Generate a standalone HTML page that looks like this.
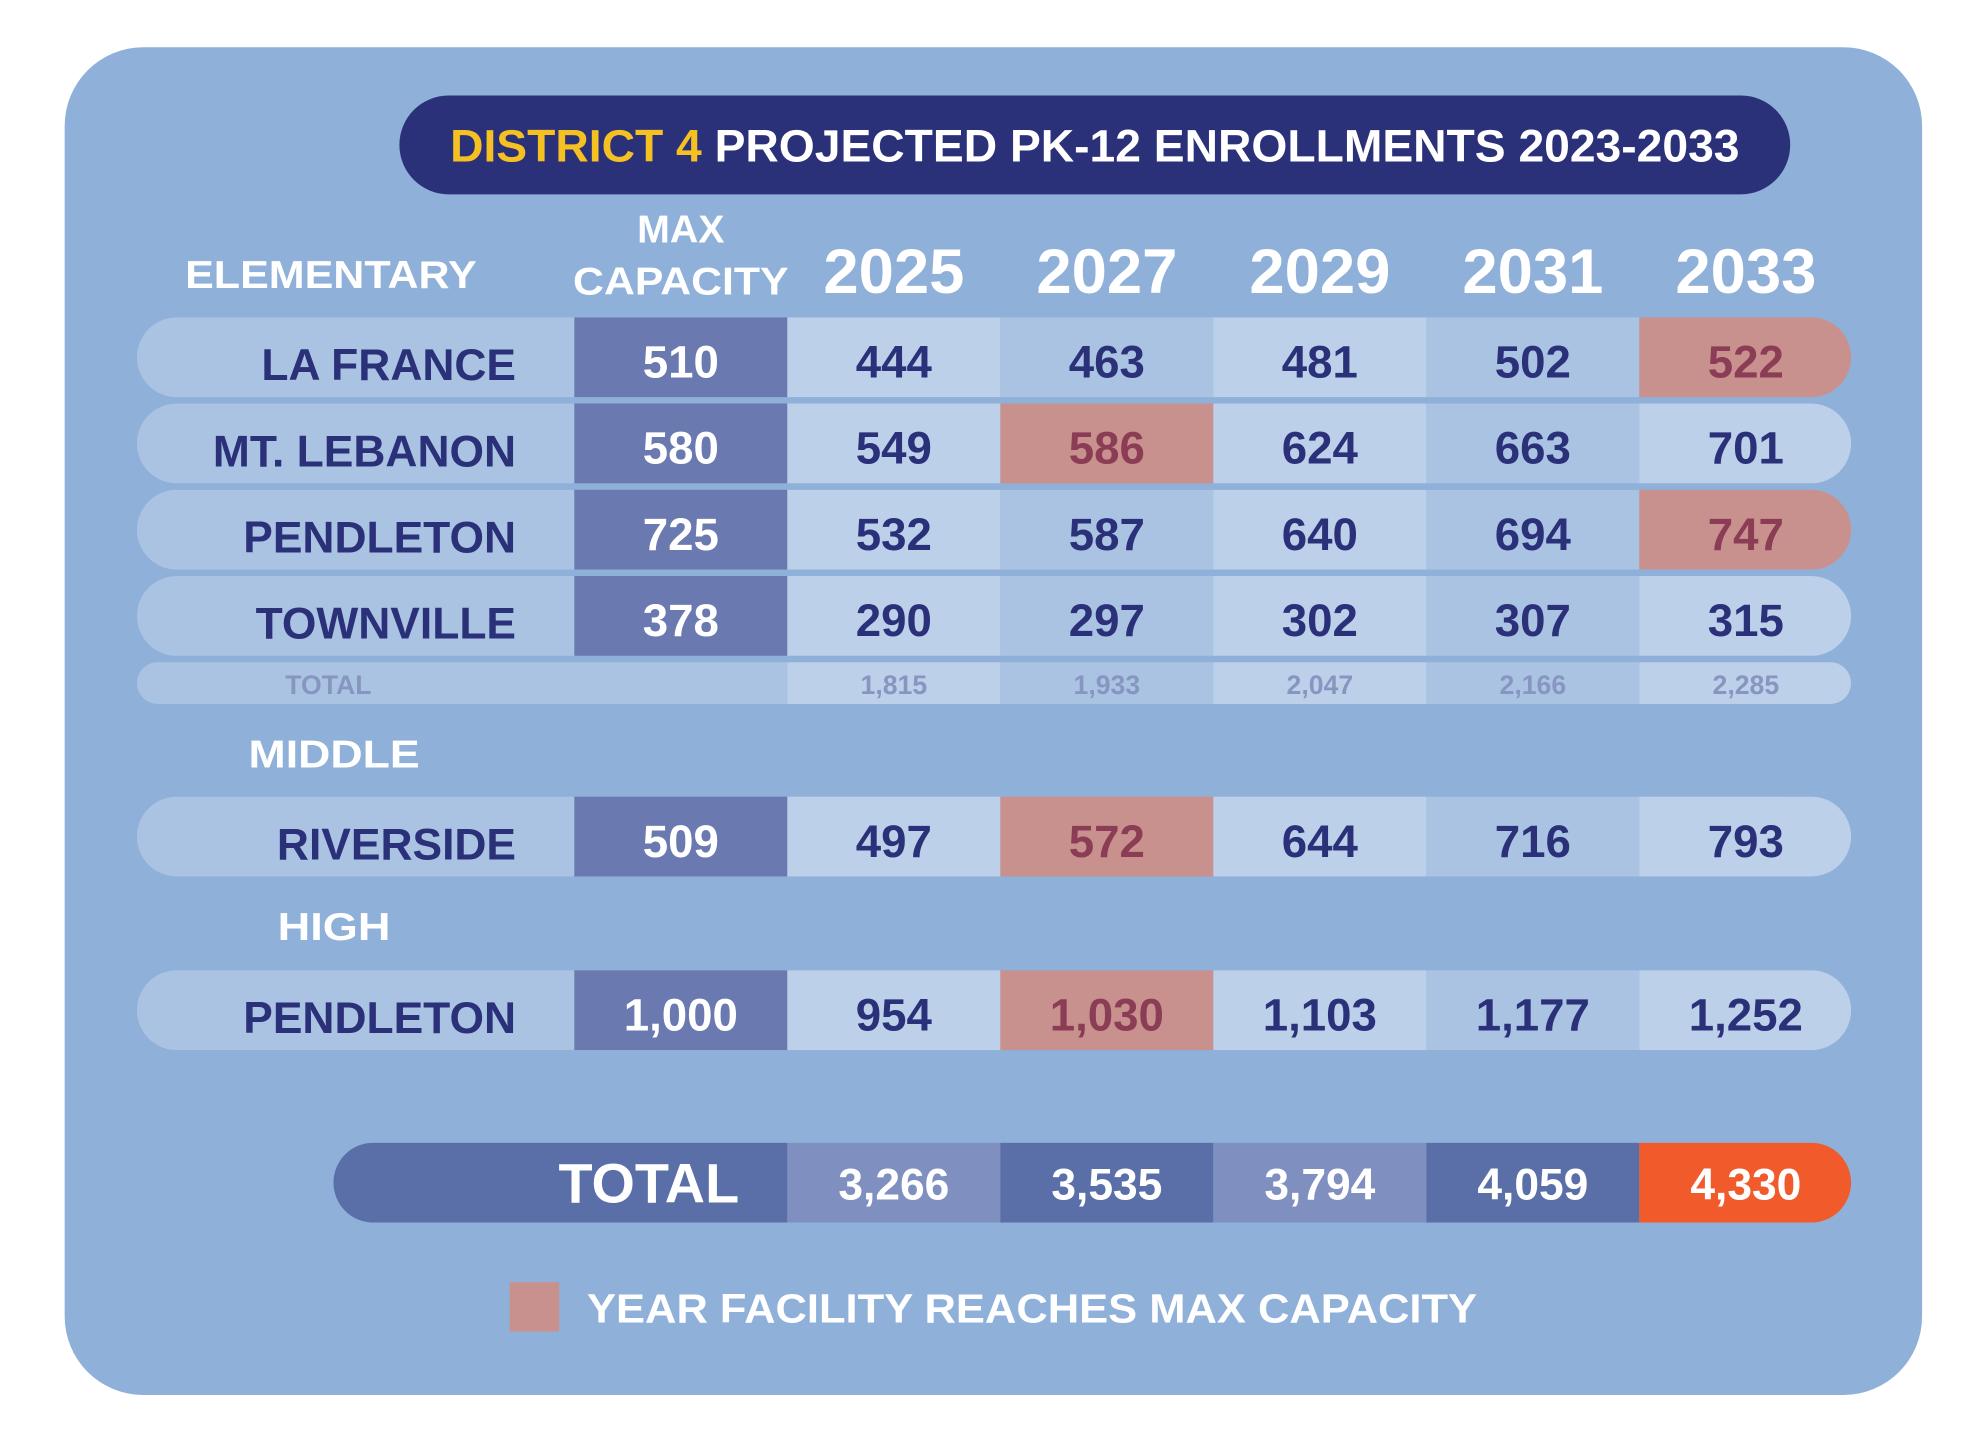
<!DOCTYPE html>
<html><head><meta charset="utf-8">
<style>
html,body{margin:0;padding:0;background:#fff;}
svg{display:block;}
text{font-family:"Liberation Sans",sans-serif;font-weight:bold;}
</style></head>
<body>
<svg id="chart" width="1988" height="1441" viewBox="0 0 1568 1136" xmlns="http://www.w3.org/2000/svg">
  <rect x="51" y="37" width="1465" height="1063" rx="62" fill="#8fb0d8"/>
  <rect x="315" y="75" width="1097" height="78" rx="39" fill="#2b3179"/>
  <text x="355" y="127" font-size="36" textLength="1017" lengthAdjust="spacingAndGlyphs" fill="#fff"><tspan fill="#f5c122">DISTRICT 4</tspan> PROJECTED PK-12 ENROLLMENTS 2023-2033</text>
  <text x="146" y="227" font-size="31" textLength="230" lengthAdjust="spacingAndGlyphs" fill="#fff">ELEMENTARY</text>
  <text x="537" y="191" font-size="31" text-anchor="middle" fill="#fff">MAX</text>
  <text x="537" y="232" font-size="31" textLength="170" lengthAdjust="spacingAndGlyphs" text-anchor="middle" fill="#fff">CAPACITY</text>
  <g id="years"></g>
  <g id="rows"></g>
  <text x="196" y="605" font-size="31" textLength="135" lengthAdjust="spacingAndGlyphs" fill="#fff">MIDDLE</text>
  <text x="219" y="741" font-size="31" textLength="89" lengthAdjust="spacingAndGlyphs" fill="#fff">HIGH</text>
  <g id="totals"></g>
  <rect x="402" y="1011" width="39" height="39" fill="#c9918e"/>
  <text x="463" y="1043" font-size="32" textLength="702" lengthAdjust="spacingAndGlyphs" fill="#fff">YEAR FACILITY REACHES MAX CAPACITY</text>
</svg>
<script>
const years = ["2025","2027","2029","2031","2033"];
const schools = ["LA FRANCE","MT. LEBANON","PENDLETON","TOWNVILLE","RIVERSIDE","PENDLETON"];
const capacities = [510,580,725,378,509,1000];
const enrollLaFrance = [444,463,481,502,522];
const enrollMtLebanon = [549,586,624,663,701];
const enrollPendletonElem = [532,587,640,694,747];
const enrollTownville = [290,297,302,307,315];
const enrollRiverside = [497,572,644,716,793];
const enrollPendletonHigh = [954,1030,1103,1177,1252];
const capacityYearIndex = [4,1,4,-1,1,1];
const elemTotals = [1815,1933,2047,2166,2285];
const grandTotals = [3266,3535,3794,4059,4330];

const NS="http://www.w3.org/2000/svg";
const svg=document.getElementById('chart');
const colX=i=>621+i*168; const colW=168;
const rowTops=[250,318,386,454,628,765]; const rowH=63;
function el(tag,attrs,parent){const e=document.createElementNS(NS,tag);for(const k in attrs)e.setAttribute(k,attrs[k]);parent.appendChild(e);return e;}
const fmt=n=>n.toLocaleString('en-US');
const gy=document.getElementById('years');
years.forEach((y,i)=>{
  const t=el('text',{x:colX(i)+colW/2,y:231,'font-size':50,'text-anchor':'middle',fill:'#fff'},gy);
  
  
  t.textContent=y;
});
const gr=document.getElementById('rows');
const allEnroll=[enrollLaFrance,enrollMtLebanon,enrollPendletonElem,enrollTownville,enrollRiverside,enrollPendletonHigh];
const defs=el('defs',{},svg);
rowTops.forEach((top,r)=>{
  const cp=el('clipPath',{id:'rc'+r},defs);
  el('rect',{x:108,y:top,width:1352,height:rowH,rx:31.5},cp);
});
const cpT=el('clipPath',{id:'rct'},defs); el('rect',{x:108,y:522,width:1352,height:33,rx:16.5},cpT);
const cpG=el('clipPath',{id:'rcg'},defs); el('rect',{x:263,y:901,width:1197,height:63,rx:31.5},cpG);
rowTops.forEach((top,r)=>{
  const g=el('g',{'clip-path':'url(#rc'+r+')'},gr);
  
  
  el('rect',{x:108,y:top,width:345,height:rowH,fill:'#abc3e3'},g);
  const c=el('rect',{x:453,y:(r<4&&r>0)?top-5:top,width:168,height:(r<4&&r>0)?rowH+5:rowH,fill:'#6a79b0'},g);
  
  
  allEnroll[r].forEach((v,i)=>{
    const hl=capacityYearIndex[r]===i;
    const b=el('rect',{x:colX(i),y:top,width:colW,height:rowH,fill:hl?'#c9918e':(i%2?'#abc3e3':'#bcd0ea')},g);
    
    
  });
});
rowTops.forEach((top,r)=>{
  const cy=top+rowH/2+18;
  const l=el('text',{x:407,y:cy,'font-size':35,'text-anchor':'end',fill:'#2b3179'},gr);
  
  
  l.textContent=schools[r];
  const cap=el('text',{x:537,y:cy-2,'font-size':36,'text-anchor':'middle',fill:'#fff'},gr);
  
  
  cap.textContent=fmt(capacities[r]);
  allEnroll[r].forEach((v,i)=>{
    const hl=capacityYearIndex[r]===i;
    const t=el('text',{x:colX(i)+colW/2,y:cy-2,'font-size':36,'text-anchor':'middle',fill:hl?'#8a3d55':'#2b3179'},gr);
    
    
    t.textContent=fmt(v);
  });
});
const gt=document.getElementById('totals');
const tg=el('g',{'clip-path':'url(#rct)'},gt);


el('rect',{x:108,y:522,width:513,height:33,fill:'#abc3e3'},tg);
elemTotals.forEach((v,i)=>{
  const b=el('rect',{x:colX(i),y:522,width:colW,height:33,fill:i%2?'#abc3e3':'#bcd0ea'},tg);
  
  
});
const tl=el('text',{x:225,y:547,'font-size':21,fill:'#8796c0'},gt);


tl.textContent='TOTAL';
elemTotals.forEach((v,i)=>{
  const t=el('text',{x:colX(i)+colW/2,y:547,'font-size':21,'text-anchor':'middle',fill:'#8796c0'},gt);
  
  
  t.textContent=fmt(v);
});
const gg=el('g',{'clip-path':'url(#rcg)'},gt);


el('rect',{x:263,y:901,width:358,height:63,fill:'#5a6fa8'},gg);
grandTotals.forEach((v,i)=>{
  const b=el('rect',{x:colX(i),y:901,width:colW,height:63,fill:i===grandTotals.length-1?'#f15a2b':(i%2?'#5a6fa8':'#7e8fc0')},gg);
  
  
});
const gl=el('text',{x:583,y:948,'font-size':44,'text-anchor':'end',fill:'#fff'},gt);


gl.textContent='TOTAL';
grandTotals.forEach((v,i)=>{
  const t=el('text',{x:colX(i)+colW/2,y:946,'font-size':35,'text-anchor':'middle',fill:'#fff'},gt);
  
  
  t.textContent=fmt(v);
});
</script>
</body></html>
